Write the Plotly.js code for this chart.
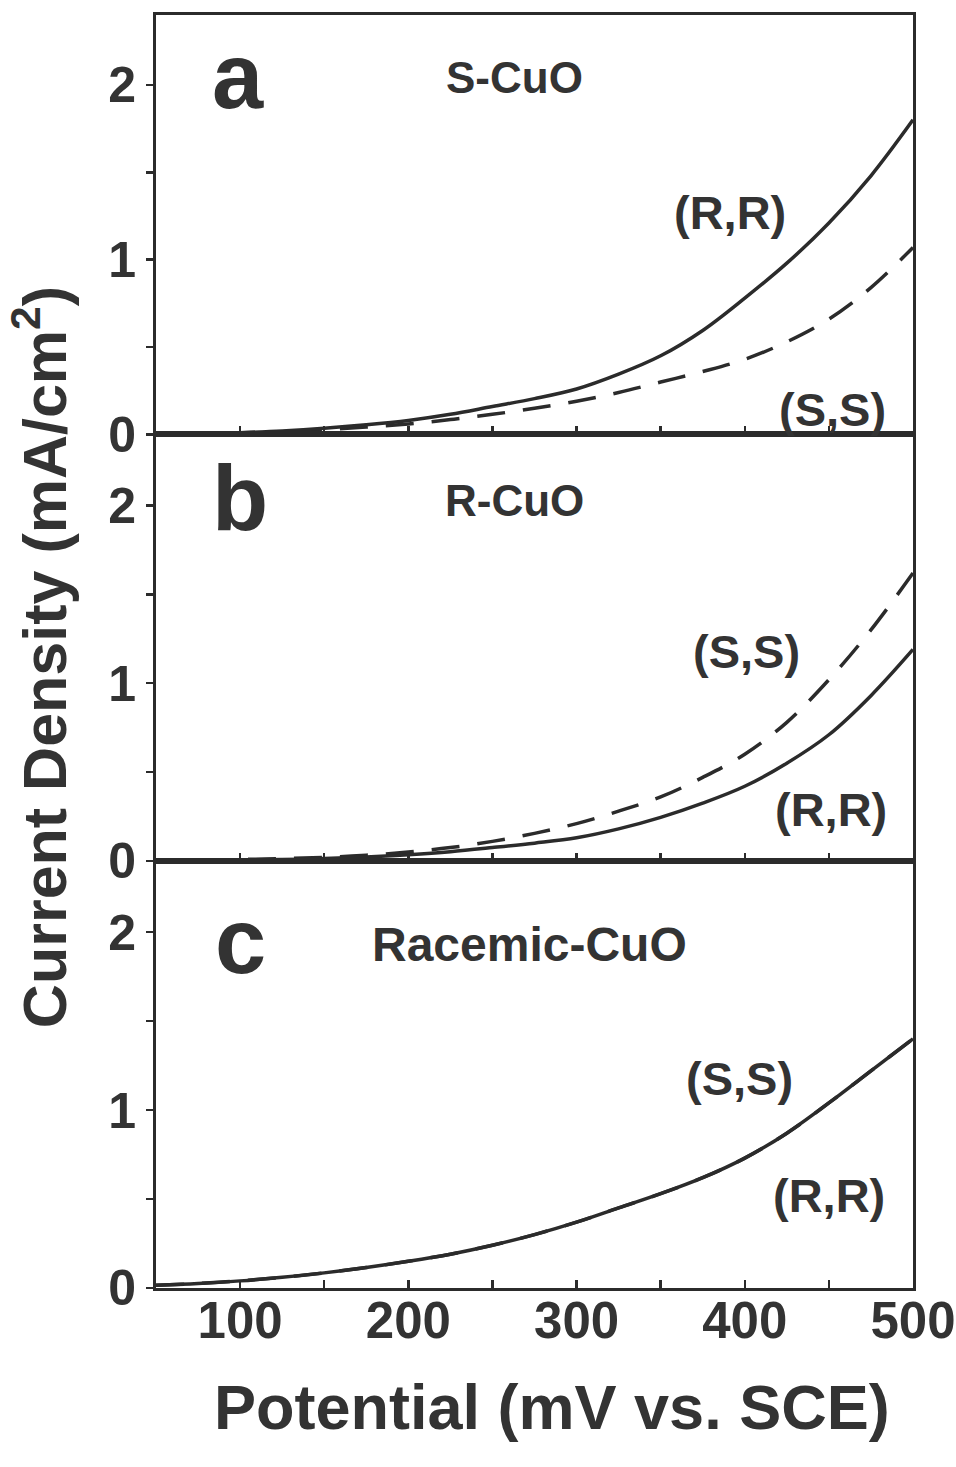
<!DOCTYPE html>
<html>
<head>
<meta charset="utf-8">
<script src="https://cdn.plot.ly/plotly-3.0.1.min.js"></script>
<style>html,body{margin:0;padding:0;background:#fff;}#chart{width:956px;height:1467px;}</style>
</head>
<body>
<div id="chart"></div>
<script>
// Potential (mV vs. SCE)
const potential = [50, 75, 100, 125, 150, 175, 200, 225, 250, 275, 300, 325, 350, 375, 400, 425, 450, 475, 500];

// Panel a: S-CuO
const aRR = [0.0, 0.003, 0.01, 0.02, 0.035, 0.055, 0.08, 0.115, 0.16, 0.205, 0.26, 0.345, 0.45, 0.595, 0.78, 0.98, 1.21, 1.48, 1.80];
const aSS = [0.0, 0.003, 0.008, 0.016, 0.028, 0.042, 0.06, 0.085, 0.115, 0.15, 0.19, 0.24, 0.30, 0.36, 0.43, 0.53, 0.66, 0.84, 1.07];
// Panel b: R-CuO
const bRR = [0.0, 0.002, 0.005, 0.008, 0.013, 0.022, 0.035, 0.052, 0.075, 0.10, 0.13, 0.18, 0.245, 0.325, 0.42, 0.55, 0.71, 0.93, 1.19];
const bSS = [0.0, 0.003, 0.008, 0.013, 0.02, 0.032, 0.05, 0.075, 0.11, 0.155, 0.21, 0.28, 0.36, 0.47, 0.60, 0.78, 1.02, 1.30, 1.62];
// Panel c: Racemic-CuO
const cRR = [0.015, 0.025, 0.04, 0.06, 0.085, 0.115, 0.15, 0.19, 0.24, 0.30, 0.37, 0.45, 0.53, 0.62, 0.73, 0.87, 1.04, 1.22, 1.40];
const cSS = [0.015, 0.025, 0.04, 0.06, 0.085, 0.115, 0.15, 0.19, 0.24, 0.30, 0.37, 0.45, 0.53, 0.62, 0.73, 0.87, 1.04, 1.22, 1.40];

const xTickVals = [100, 200, 300, 400, 500];
const yTickVals = [0, 1, 2];

const INK = '#2b2b2b';
const TXT = '#333333';
const FONT = 'Liberation Sans, Arial, Helvetica, sans-serif';

function solid(y, xa, ya) {
  return {x: potential, y: y, xaxis: xa, yaxis: ya, mode: 'lines', type: 'scatter',
    line: {color: INK, width: 3.5, shape: 'spline'}, showlegend: false, hoverinfo: 'skip'};
}
function dashed(y, xa, ya) {
  return {x: potential, y: y, xaxis: xa, yaxis: ya, mode: 'lines', type: 'scatter',
    line: {color: INK, width: 3.5, shape: 'spline', dash: '28px,18px'}, showlegend: false, hoverinfo: 'skip'};
}

const data = [
  dashed(aSS, 'x', 'y'), solid(aRR, 'x', 'y'),
  dashed(bSS, 'x2', 'y2'), solid(bRR, 'x2', 'y2'),
  dashed(cSS, 'x3', 'y3'), solid(cRR, 'x3', 'y3')
];

function xax(anchor, showLabels) {
  return {
    anchor: anchor, range: [50, 500], tickvals: xTickVals, ticktext: xTickVals.map(String),
    ticks: 'inside', ticklen: 8, tickwidth: 2.5, tickcolor: INK,
    minor: {dtick: 50, tick0: 0, ticks: 'inside', ticklen: 8, tickwidth: 2.5, tickcolor: INK},
    showline: true, linecolor: INK, linewidth: 3, mirror: true,
    showgrid: false, zeroline: false, showticklabels: showLabels,
    ticklabeloverflow: 'allow',
    tickfont: {family: FONT, size: 51, color: TXT, weight: 'bold'}, ticklabelstandoff: -14
  };
}
function yax(anchor, domain) {
  return {
    anchor: anchor, domain: domain, range: [0, 2.4], tickvals: yTickVals, ticktext: yTickVals.map(String),
    ticks: 'outside', ticklen: 7, tickwidth: 2.5, tickcolor: INK,
    minor: {dtick: 0.5, tick0: 0, ticks: 'outside', ticklen: 7, tickwidth: 2.5, tickcolor: INK},
    showline: true, linecolor: INK, linewidth: 3, mirror: true,
    showgrid: false, zeroline: false,
    tickfont: {family: FONT, size: 50, color: TXT, weight: 'bold'}, ticklabelstandoff: 0
  };
}

function lab(text, x, y, xr, yr, size) {
  return {text: text, x: x, y: y, xref: xr, yref: yr, showarrow: false,
    font: {family: FONT, size: size, color: TXT, weight: 'bold'}, xanchor: 'center', yanchor: 'middle'};
}

const annotations = [
  lab('a', 99, 2.05, 'x', 'y', 92),
  lab('S-CuO', 263, 2.04, 'x', 'y', 44),
  lab('(R,R)', 391, 1.27, 'x', 'y', 47),
  lab('(S,S)', 452, 0.14, 'x', 'y', 47),
  lab('b', 100, 2.04, 'x2', 'y2', 92),
  lab('R-CuO', 263, 2.03, 'x2', 'y2', 44),
  lab('(S,S)', 401, 1.18, 'x2', 'y2', 47),
  lab('(R,R)', 451, 0.29, 'x2', 'y2', 47),
  lab('c', 100, 1.95, 'x3', 'y3', 92),
  lab('Racemic-CuO', 272, 1.93, 'x3', 'y3', 48),
  lab('(S,S)', 397, 1.18, 'x3', 'y3', 47),
  lab('(R,R)', 450, 0.52, 'x3', 'y3', 47),
  {text: 'Current Density (mA/cm<sup>2</sup>)', x: -0.153, y: 0.4957, xref: 'paper', yref: 'paper',
    textangle: -90, showarrow: false, xanchor: 'center', yanchor: 'middle',
    font: {family: FONT, size: 61, color: TXT, weight: 'bold'}},
  {text: 'Potential (mV vs. SCE)', x: 0.523, y: -0.0935, xref: 'paper', yref: 'paper',
    showarrow: false, xanchor: 'center', yanchor: 'middle',
    font: {family: FONT, size: 63, color: TXT, weight: 'bold'}}
];

const layout = {
  width: 956, height: 1467,
  margin: {l: 156, r: 43, t: 15, b: 179},
  paper_bgcolor: '#ffffff', plot_bgcolor: '#ffffff',
  showlegend: false,
  xaxis: xax('y', false),
  xaxis2: xax('y2', false),
  xaxis3: xax('y3', true),
  yaxis: yax('x', [0.6705, 1]),
  yaxis2: yax('x2', [0.3355, 0.6705]),
  yaxis3: yax('x3', [0, 0.3355]),
  annotations: annotations
};

Plotly.newPlot('chart', data, layout, {staticPlot: true, displayModeBar: false});
</script>
</body>
</html>
